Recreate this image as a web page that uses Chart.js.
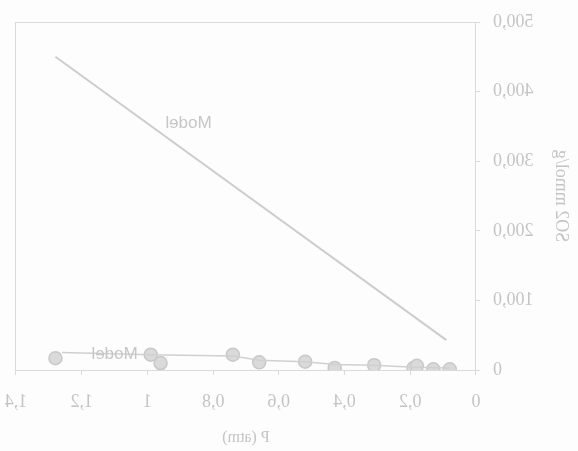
<!DOCTYPE html>
<html>
<head>
    <title>SO2 vs P</title>
    <script src="https://cdn.jsdelivr.net/npm/chart.js"></script>
    <style>
        html, body { margin: 0; padding: 0; background: #fdfdfd; }
        .wrap { width: 578px; height: 451px; }
        /* the scanned figure is mirrored left-right */
        #chart { transform: scaleX(-1); }
    </style>
</head>
<body>
    <div class="wrap"><canvas id="chart" width="578" height="451"></canvas></div>
    <script>
        // upper model line
        const modelHighP = [1.28, 0.09];
        const modelHighSO2 = [450, 43];

        // lower model line
        const modelLowP = [1.26, 0.99, 0.74, 0.66, 0.52, 0.43, 0.31, 0.19, 0.08];
        const modelLowSO2 = [25, 22, 20, 14, 12, 8, 7, 4, 3];

        // measured points
        const measP = [1.28, 0.99, 0.96, 0.74, 0.66, 0.52, 0.43, 0.31, 0.19, 0.18, 0.13, 0.08];
        const measSO2 = [17, 22, 10, 22, 11, 12, 3, 7, 3, 6, 1, 1];

        const xTicks = [0, 0.2, 0.4, 0.6, 0.8, 1, 1.2, 1.4];
        const yTicks = [0, 100, 200, 300, 400, 500];

        // "Model" labels: [P, SO2]
        const labelPos = [[0.875, 355], [1.10, 22]];

        const ink = '#c4c4c4';
        const font = { family: '"Liberation Serif", "DejaVu Serif", serif', size: 18 };

        const toXY = (xs, ys) => xs.map((x, i) => ({ x: x, y: ys[i] }));
        const comma = v => String(v).replace('.', ',');

        const frame = {
            id: 'frame',
            afterDatasetsDraw(chart) {
                const a = chart.chartArea, ctx = chart.ctx;
                ctx.save();
                ctx.strokeStyle = '#dadada';
                ctx.lineWidth = 1;
                ctx.strokeRect(a.left + 0.5, a.top + 0.5, a.right - a.left, a.bottom - a.top);
                ctx.fillStyle = '#c6c6c6';
                ctx.font = '17px Arial, "Liberation Sans", sans-serif';
                ctx.textAlign = 'center';
                ctx.textBaseline = 'middle';
                labelPos.forEach(p => {
                    ctx.fillText('Model', chart.scales.x.getPixelForValue(p[0]),
                        chart.scales.y.getPixelForValue(p[1]));
                });
                ctx.restore();
            }
        };

        new Chart(document.getElementById('chart'), {
            type: 'scatter',
            data: {
                datasets: [{
                    data: toXY(modelHighP, modelHighSO2),
                    showLine: true,
                    borderColor: '#cdcdcd',
                    borderWidth: 2,
                    pointRadius: 0
                }, {
                    data: toXY(modelLowP, modelLowSO2),
                    showLine: true,
                    borderColor: '#d0d0d0',
                    borderWidth: 1.5,
                    pointRadius: 0
                }, {
                    data: toXY(measP, measSO2),
                    pointRadius: 6.5,
                    pointBackgroundColor: '#dadada',
                    pointBorderColor: '#c8c8c8',
                    pointBorderWidth: 1.5
                }]
            },
            options: {
                responsive: false,
                animation: false,
                layout: { padding: { top: 22, right: 16, left: 0, bottom: 0 } },
                plugins: { legend: { display: false }, tooltip: { enabled: false } },
                scales: {
                    x: {
                        type: 'linear',
                        min: 0,
                        max: 1.4,
                        afterBuildTicks: s => { s.ticks = xTicks.map(v => ({ value: v })); },
                        afterFit: s => { s.height = 81; s.paddingLeft = 0; s.paddingRight = 0; },
                        grid: { drawOnChartArea: false, tickLength: 5, color: '#dadada' },
                        border: { color: '#dadada' },
                        ticks: { color: ink, font: font, padding: 16, maxRotation: 0, callback: v => comma(v) },
                        title: { display: true, text: 'P (atm)', color: ink, font: { family: font.family, size: 16 }, padding: { top: 0, bottom: 4 } }
                    },
                    y: {
                        min: 0,
                        max: 500,
                        afterBuildTicks: s => { s.ticks = yTicks.map(v => ({ value: v })); },
                        afterFit: s => { s.width = 102; s.paddingTop = 0; s.paddingBottom = 0; },
                        grid: { drawOnChartArea: false, tickLength: 4, color: '#dadada' },
                        border: { color: '#dadada' },
                        ticks: { color: ink, font: font, padding: 13, callback: v => v === 0 ? '0' : v.toFixed(1).replace('.', ',') },
                        title: { display: true, text: 'SO2 mmol/g', color: ink, font: font, padding: { top: 6, bottom: 0 } }
                    }
                }
            },
            plugins: [frame]
        });
    </script>
</body>
</html>
